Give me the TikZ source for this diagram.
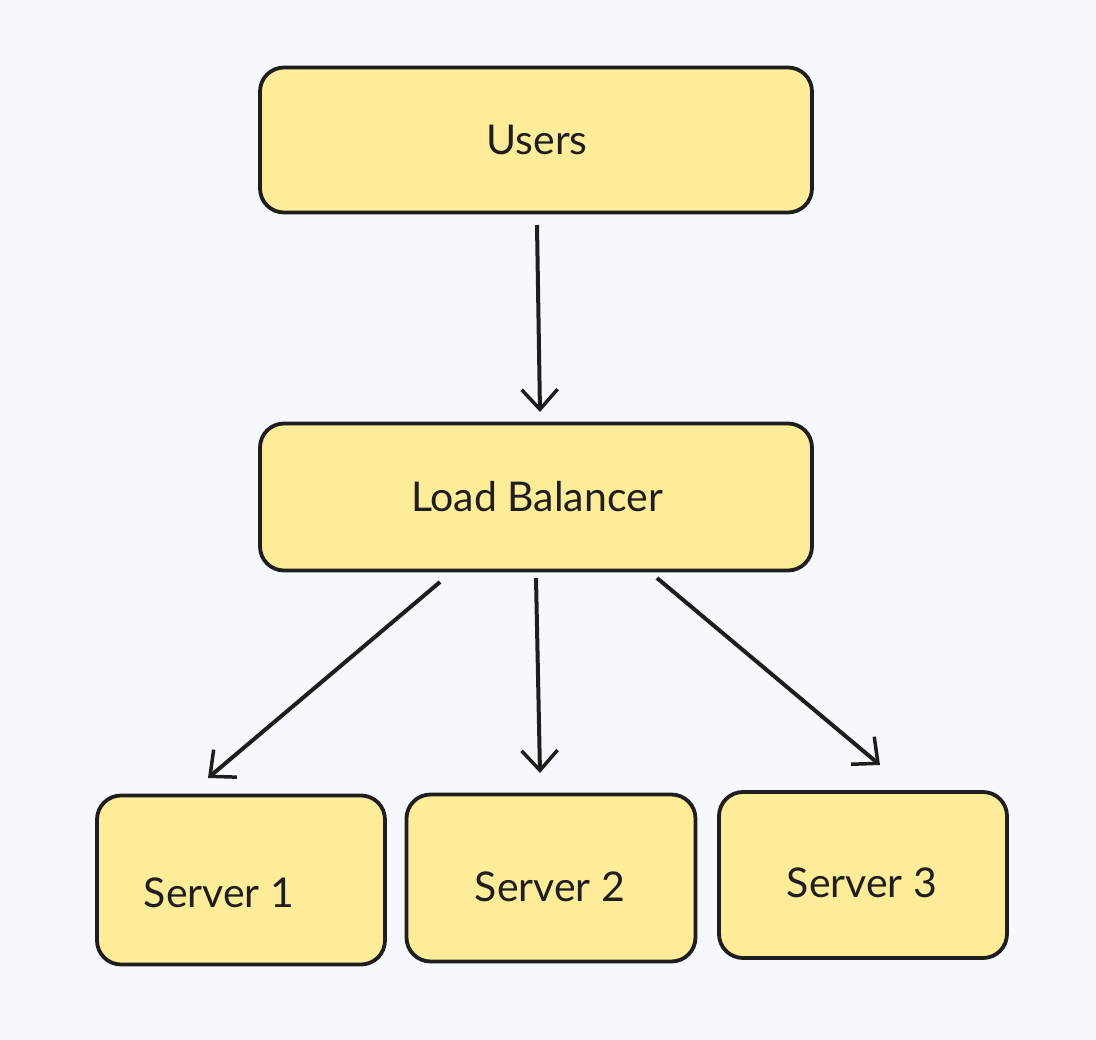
\documentclass[tikz,border=0pt]{standalone}
\usepackage{fontspec}
\setmainfont{Lato}
\usetikzlibrary{arrows.meta}
\definecolor{bg}{HTML}{F5F9FD}
\definecolor{boxfill}{HTML}{FFEC99}
\definecolor{ink}{HTML}{1E1E1E}
\begin{document}
\begin{tikzpicture}[x=1pt,y=-1pt,
  box/.style={draw=ink,fill=boxfill,line width=3.8pt,rounded corners=24pt,inner sep=0pt},
  lbl/.style={font=\fontsize{41}{48}\selectfont,text=ink},
  arr/.style={draw=ink,line width=4pt,-{Straight Barb[length=20pt,width=36pt,line width=3.5pt]}}]
\fill[bg] (0,0) rectangle (1096,1040);
\useasboundingbox (0,0) rectangle (1096,1040);
\node[box,minimum width=552pt,minimum height=145pt] (users) at (536,140) {};
\node[lbl] (tu) at (537,140) {Users};
\node[box,minimum width=552pt,minimum height=147pt] (lb) at (536,497) {};
\node[lbl] (tlb) at (537,497) {Load Balancer};
\node[box,minimum width=288pt,minimum height=169pt] (s1) at (241,880) {};
\node[lbl] (t1) at (219,893) {Server 1};
\node[box,minimum width=289pt,minimum height=167pt] (s2) at (551,878) {};
\node[lbl] (t2) at (550,887) {Server 2};
\node[box,minimum width=288pt,minimum height=166pt] (s3) at (863,875) {};
\node[lbl] (t3) at (862,883) {Server 3};
\coordinate (a1) at (537,225); \coordinate (a2) at (540,412);
\coordinate (b1) at (440,582); \coordinate (b2) at (208,778);
\coordinate (c1) at (536,578); \coordinate (c2) at (540,773);
\coordinate (d1) at (657,578); \coordinate (d2) at (880,765);
\draw[arr] (a1) -- (a2);
\draw[arr] (b1) -- (b2);
\draw[arr] (c1) -- (c2);
\draw[arr] (d1) -- (d2);
\end{tikzpicture}
\end{document}
